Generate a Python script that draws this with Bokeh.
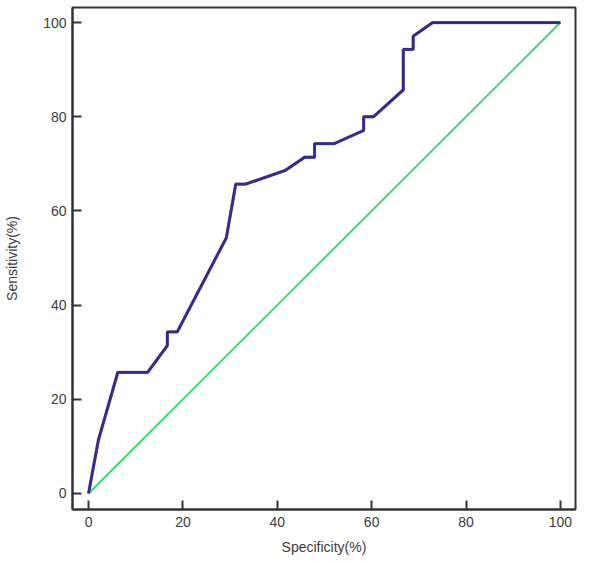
from bokeh.plotting import figure
from bokeh.embed import file_html
from bokeh.resources import INLINE
from bokeh.models import Range1d, FixedTicker

# ROC curve data
specificity = [0, 2.1, 6.2, 12.5, 16.7, 16.7, 18.8, 29.2, 31.2, 33.3, 41.7, 45.8, 47.9, 47.9,
               52.1, 58.3, 58.3, 60.4, 66.7, 66.7, 68.8, 68.8, 72.9, 100]
sensitivity = [0, 11.4, 25.7, 25.7, 31.4, 34.3, 34.3, 54.3, 65.7, 65.7, 68.6, 71.4, 71.4, 74.3,
               74.3, 77.1, 80.0, 80.0, 85.7, 94.3, 94.3, 97.1, 100, 100]
ref_x = [0, 100]
ref_y = [0, 100]
ticks = [0, 20, 40, 60, 80, 100]

p = figure(width=591, height=561, output_backend="svg", toolbar_location=None,
           x_range=Range1d(-3.4, 103.2), y_range=Range1d(-3.4, 103.2),
           min_border_left=72, min_border_right=16, min_border_top=7, min_border_bottom=52)
p.background_fill_color = "white"
p.border_fill_color = "white"
p.outline_line_color = "#333333"
p.outline_line_width = 2
p.xgrid.visible = False
p.ygrid.visible = False

p.line(ref_x, ref_y, line_color="#3ddc6a", line_width=2)
p.line(specificity, sensitivity, line_color="#c86a7a", line_width=3.2, line_alpha=0.8)
p.line(specificity, sensitivity, line_color="#2c2c96", line_width=2.8)

for ax in (p.xaxis[0], p.yaxis[0]):
    ax.ticker = FixedTicker(ticks=ticks)
    ax.axis_line_color = "#333333"
    ax.axis_line_width = 2
    ax.major_tick_line_color = "#333333"
    ax.major_tick_line_width = 2
    ax.major_tick_in = 9
    ax.major_tick_out = 0
    ax.minor_tick_line_color = None
    ax.major_label_text_font = "Liberation Sans"
    ax.major_label_text_font_size = "14px"
    ax.major_label_text_color = "#3c3c3c"
    ax.axis_label_text_font = "Liberation Sans"
    ax.axis_label_text_font_size = "14px"
    ax.axis_label_text_font_style = "normal"
    ax.axis_label_text_color = "#3c3c3c"

p.xaxis.axis_label = "Specificity(%)"
p.yaxis.axis_label = "Sensitivity(%)"
p.xaxis.major_label_standoff = 7
p.yaxis.major_label_standoff = 6
p.xaxis.axis_label_standoff = 9
p.yaxis.axis_label_standoff = 20

open("out.html", "w").write(file_html(p, INLINE))
